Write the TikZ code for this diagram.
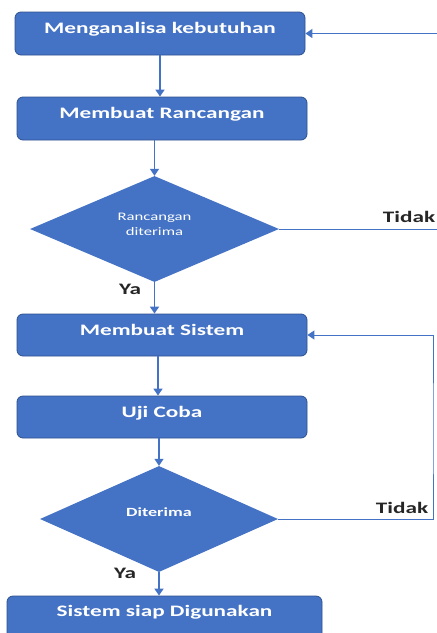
\documentclass[tikz,border=0pt]{standalone}
\usepackage{fontspec}
\setmainfont{Carlito}[FakeStretch=1.45]
\usetikzlibrary{shapes.geometric,arrows.meta}
\definecolor{fillblue}{HTML}{4472C4}
\definecolor{edgeblue}{HTML}{2F528F}
\definecolor{lineblue}{HTML}{4472C4}
\definecolor{labelgray}{HTML}{262626}
\begin{document}
\begin{tikzpicture}[x=1pt,y=-1pt,
  procbox/.style={draw=edgeblue, line width=0.8pt, fill=fillblue, rounded corners=6pt,
    minimum width=290pt, minimum height=43pt, inner sep=0pt, text=white,
    text height=11pt, text depth=11pt,
    font=\bfseries\fontsize{16pt}{18pt}\selectfont},
  decision/.style={diamond, draw=none, fill=fillblue, inner sep=0pt},
  dtext/.style={text=white, align=center, inner sep=0pt},
  flow/.style={draw=lineblue, line width=1.5pt, -{Triangle[width=9pt,length=7pt]}},
  loopline/.style={draw=lineblue, line width=1pt, -{Triangle[width=9pt,length=7pt]}},
  lbl/.style={text=labelgray, font=\bfseries\fontsize{16pt}{18pt}\selectfont, inner sep=0pt}]
\useasboundingbox (0,0) rectangle (437,633);
\fill[white] (0,0) rectangle (437,633);

\node[procbox] (b1) at (160,33.5) {Menganalisa kebutuhan};
\node[procbox] (b2) at (162,118.5) {Membuat Rancangan};
\node[decision, minimum width=249pt, minimum height=106pt,
      label={[dtext, yshift=5pt, font=\fontsize{11.5pt}{15pt}\selectfont]center:Rancangan\\diterima}] (d1) at (154.5,229) {};
\node[procbox, minimum height=42pt] (b3) at (162,335) {Membuat Sistem};
\node[procbox, minimum height=42pt] (b4) at (162,417) {Uji Coba};
\node[decision, minimum width=238pt, minimum height=106pt,
      label={[dtext, yshift=7pt, font=\bfseries\fontsize{12.5pt}{15pt}\selectfont]center:Diterima}] (d2) at (159,519) {};
\node[procbox, minimum width=315pt, minimum height=44pt, text depth=14pt] (b5) at (164.5,618) {Sistem siap Digunakan};

\draw[flow] (b1.south) -- (b1.south |- b2.north);
\draw[flow] (d1.north |- b2.south) -- (d1.north);
\draw[flow] (d1.south) -- (d1.south |- b3.north);
\draw[flow] ([xshift=-4pt]b3.south) -- ([xshift=-4pt]b3.south |- b4.north);
\draw[flow] (d2.north |- b4.south) -- (d2.north);
\draw[flow] (d2.south) -- (d2.south |- b5.north);

\coordinate (r1) at (441,131);
\coordinate (r2) at (433,430);
\draw[loopline] (d1.east) -| (r1) |- (b1.east);
\draw[loopline] (d2.east) -| (r2) |- (b3.east);

\node[lbl] (t1) at (409,217) {Tidak};
\node[lbl] (t2) at (402,508) {Tidak};
\node[lbl] (y1) at (130,289) {Ya};
\node[lbl] (y2) at (125,573) {Ya};
\end{tikzpicture}
\end{document}
